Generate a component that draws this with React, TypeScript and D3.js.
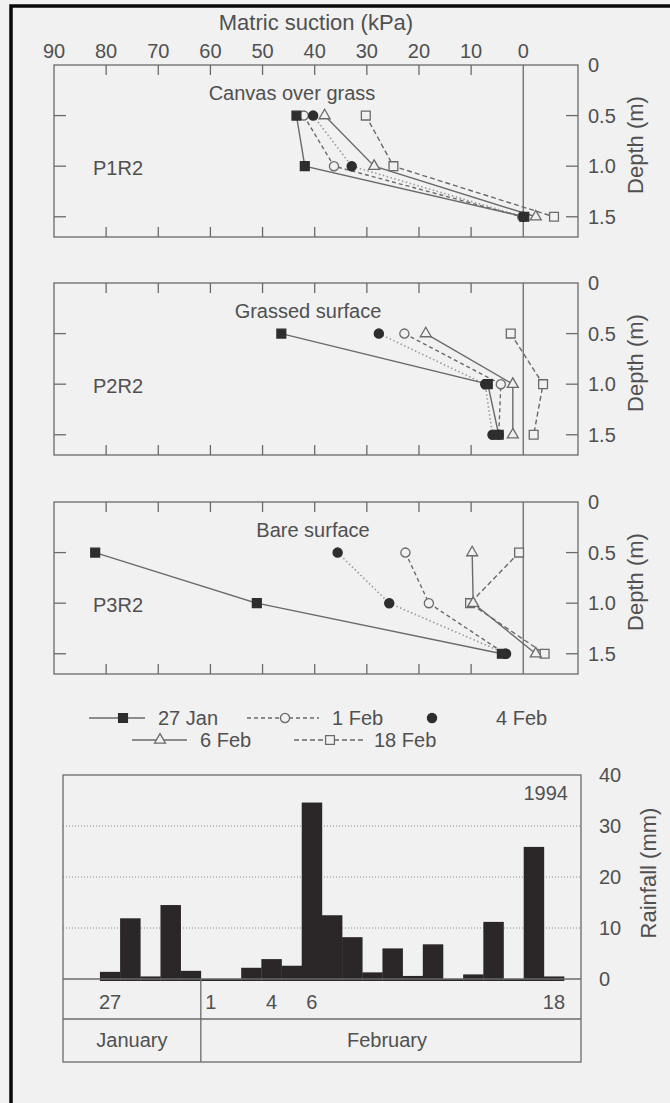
import React from "react";
import * as d3 from "d3";

// depth of the three sensors (m)
const depths = [0.5, 1.0, 1.5];
const seriesNames = ["27 Jan", "1 Feb", "4 Feb", "6 Feb", "18 Feb"];

// matric suction (kPa) per series, at 0.5 / 1.0 / 1.5 m
const p1r2Suction = [
  [43.5, 41.9, -0.2],
  [42.1, 36.3, 0.2],
  [40.3, 32.9, 0.0],
  [38.1, 28.6, -2.4],
  [30.2, 24.9, -5.9],
];
const p2r2Suction = [
  [46.4, 6.8, 4.7],
  [22.8, 4.3, 4.7],
  [27.7, 7.3, 5.9],
  [18.7, 2.0, 2.0],
  [2.4, -3.8, -2.0],
];
const p3r2Suction = [
  [82.1, 51.1, 4.1],
  [22.6, 18.1, 3.5],
  [35.6, 25.7, 3.3],
  [9.8, 9.6, -2.4],
  [0.8, 10.2, -4.1],
];

const suctionTicks = [90, 80, 70, 60, 50, 40, 30, 20, 10, 0];
const depthTicks = [0, 0.5, 1.0, 1.5];
const depthTickLabels = ["0", "0.5", "1.0", "1.5"];

// daily rainfall, 27 Jan - 18 Feb 1994
const rainDays = [
  "27", "28", "29", "30", "31", "1", "2", "3", "4", "5", "6", "7",
  "8", "9", "10", "11", "12", "13", "14", "15", "16", "17", "18",
];
const rainMm = [
  1.4, 11.9, 0.5, 14.5, 1.6, 0, 0, 2.2, 3.9, 2.6, 34.6, 12.5,
  8.2, 1.3, 6.0, 0.6, 6.8, 0, 0.9, 11.2, 0, 25.9, 0.5,
];
const rainDayLabels = ["27", "1", "4", "6", "18"];
const rainTicks = [0, 10, 20, 30, 40];
const months = ["January", "February"];

const FONT = "'Liberation Sans', Arial, Helvetica, sans-serif";
const TXT = "#505050";
const LINE = "#6a6a6a";
const BG = "#f1f1f1";

const styles = [
  { dash: null, marker: "square", filled: true },
  { dash: "4,3", marker: "circle", filled: false },
  { dash: "1.5,2.5", marker: "circle", filled: true },
  { dash: null, marker: "triangle", filled: false },
  { dash: "5,3", marker: "square", filled: false },
];

const symbolFor = (m: string) =>
  m === "square" ? d3.symbolSquare : m === "circle" ? d3.symbolCircle : d3.symbolTriangle;
const sizeFor = (m: string) => (m === "square" ? 78 : m === "circle" ? 66 : 52);

const Marker = ({ kind, filled, x, y }: any) => (
  <path
    d={d3.symbol().type(symbolFor(kind)).size(sizeFor(kind))() || ""}
    transform={`translate(${x},${y})`}
    fill={filled ? "#2e2e2e" : BG}
    stroke={filled ? "#2e2e2e" : LINE}
    strokeWidth={1.3}
  />
);

const x = d3.scaleLinear().domain([90, -10.5]).range([54, 578]);
const panelH = 172;

const Panel = ({ top, data, title, titleX, name, showTickLabels }: any) => {
  const y = d3.scaleLinear().domain([0, 1.7]).range([top, top + panelH]);
  const line = d3
    .line<number>()
    .x((d) => x(d))
    .y((_, i) => y(depths[i]));
  const order = [1, 4, 3, 2, 0];
  return (
    <g>
      <rect x={54} y={top} width={524} height={panelH} fill="none" stroke={LINE} strokeWidth={1.3} />
      <line x1={x(0)} x2={x(0)} y1={top} y2={top + panelH} stroke={LINE} strokeWidth={1.3} />
      {suctionTicks.slice(1, -1).map((t) => (
        <g key={t}>
          <line x1={x(t)} x2={x(t)} y1={top} y2={top + 10} stroke={LINE} strokeWidth={1.3} />
          <line x1={x(t)} x2={x(t)} y1={top + panelH} y2={top + panelH - 10} stroke={LINE} strokeWidth={1.3} />
        </g>
      ))}
      {showTickLabels &&
        suctionTicks.map((t) => (
          <text key={t} x={x(t)} y={top - 7} textAnchor="middle" fontSize={20} fill={TXT}>
            {t}
          </text>
        ))}
      {depthTicks.map((t, i) => (
        <g key={t}>
          {t > 0 && (
            <>
              <line x1={54} x2={66} y1={y(t)} y2={y(t)} stroke={LINE} strokeWidth={1.3} />
              <line x1={578} x2={566} y1={y(t)} y2={y(t)} stroke={LINE} strokeWidth={1.3} />
            </>
          )}
          <text x={588} y={y(t) + 7} fontSize={20} fill={TXT}>
            {depthTickLabels[i]}
          </text>
        </g>
      ))}
      <text
        transform={`translate(643,${top + 80}) rotate(-90)`}
        textAnchor="middle"
        fontSize={22}
        fill={TXT}
      >
        Depth (m)
      </text>
      <text x={titleX} y={top + 35} textAnchor="middle" fontSize={20} fill={TXT}>
        {title}
      </text>
      <text x={93} y={top + 110} fontSize={20} fill={TXT}>
        {name}
      </text>
      {order.map((s) => (
        <path
          key={"l" + s}
          d={line(data[s]) || ""}
          fill="none"
          stroke={s === 2 ? "#9a9a9a" : LINE}
          strokeWidth={s === 2 ? 1.6 : 1.4}
          strokeDasharray={styles[s].dash || undefined}
        />
      ))}
      {order.map((s) =>
        data[s].map((v: number, i: number) => (
          <Marker key={s + "-" + i} kind={styles[s].marker} filled={styles[s].filled} x={x(v)} y={y(depths[i])} />
        ))
      )}
    </g>
  );
};

const legendItems = [
  { s: 0, x1: 89, x2: 145, mx: 123, tx: 158, y: 718 },
  { s: 1, x1: 247, x2: 319, mx: 285, tx: 332, y: 718 },
  { s: 2, x1: 0, x2: 0, mx: 432, tx: 496, y: 718 },
  { s: 3, x1: 132, x2: 187, mx: 160, tx: 200, y: 740 },
  { s: 4, x1: 294, x2: 366, mx: 330, tx: 374, y: 740 },
];

const RainChart = () => {
  const bx = d3.scaleLinear().domain([-1.83, 23.84]).range([63, 581]);
  const by = d3.scaleLinear().domain([0, 40]).range([979, 775]);
  return (
    <g>
      {rainTicks.slice(1, -1).map((t) => (
        <line key={t} x1={63} x2={581} y1={by(t)} y2={by(t)} stroke="#8a8a8a" strokeWidth={1} strokeDasharray="1,2" />
      ))}
      {rainMm.map((v, i) => (
        <rect
          key={i}
          x={bx(i)}
          y={by(v)}
          width={bx(i + 1) - bx(i) + 0.3}
          height={Math.max(0, by(0) - by(v) + 2)}
          fill="#2b2627"
        />
      ))}
      <rect x={63} y={775} width={518} height={287} fill="none" stroke={LINE} strokeWidth={1.3} />
      <line x1={63} x2={581} y1={by(0)} y2={by(0)} stroke={LINE} strokeWidth={1.3} />
      <line x1={63} x2={581} y1={1019} y2={1019} stroke={LINE} strokeWidth={1.3} />
      <line x1={bx(5)} x2={bx(5)} y1={by(0)} y2={1062} stroke={LINE} strokeWidth={1.3} />
      {rainDayLabels.map((l) => {
        const i = rainDays.indexOf(l, l === "1" ? 5 : 0);
        return (
          <text key={l} x={bx(i + 0.5)} y={1009} textAnchor="middle" fontSize={20} fill={TXT}>
            {l}
          </text>
        );
      })}
      <text x={(63 + bx(5)) / 2} y={1047} textAnchor="middle" fontSize={20} fill={TXT}>
        {months[0]}
      </text>
      <text x={387} y={1047} textAnchor="middle" fontSize={20} fill={TXT}>
        {months[1]}
      </text>
      <text x={568} y={800} textAnchor="end" fontSize={20} fill={TXT}>
        1994
      </text>
      {rainTicks.map((t) => (
        <text key={t} x={599} y={by(t) + 7} fontSize={20} fill={TXT}>
          {t}
        </text>
      ))}
      <text transform="translate(656,873) rotate(-90)" textAnchor="middle" fontSize={22} fill={TXT}>
        Rainfall (mm)
      </text>
    </g>
  );
};

export default function App() {
  return (
    <svg
      width={670}
      height={1103}
      style={{ position: "absolute", top: 0, left: 0 }}
      fontFamily={FONT}
    >
      <rect width={670} height={1103} fill={BG} />
      <path d="M11,1103 V6 H670" fill="none" stroke="#0a0a0a" strokeWidth={3.5} />
      <text x={316} y={30} textAnchor="middle" fontSize={22} fill={TXT}>
        Matric suction (kPa)
      </text>
      <Panel top={65} data={p1r2Suction} title="Canvas over grass" titleX={292} name="P1R2" showTickLabels />
      <Panel top={283} data={p2r2Suction} title="Grassed surface" titleX={308} name="P2R2" />
      <Panel top={502} data={p3r2Suction} title="Bare surface" titleX={313} name="P3R2" />
      {legendItems.map((it) => (
        <g key={it.s}>
          {it.x2 > it.x1 && (
            <line
              x1={it.x1}
              x2={it.x2}
              y1={it.y}
              y2={it.y}
              stroke={LINE}
              strokeWidth={1.4}
              strokeDasharray={styles[it.s].dash || undefined}
            />
          )}
          <Marker kind={styles[it.s].marker} filled={styles[it.s].filled} x={it.mx} y={it.y} />
          <text x={it.tx} y={it.y + 7} fontSize={20} fill={TXT}>
            {seriesNames[it.s]}
          </text>
        </g>
      ))}
      <RainChart />
    </svg>
  );
}
